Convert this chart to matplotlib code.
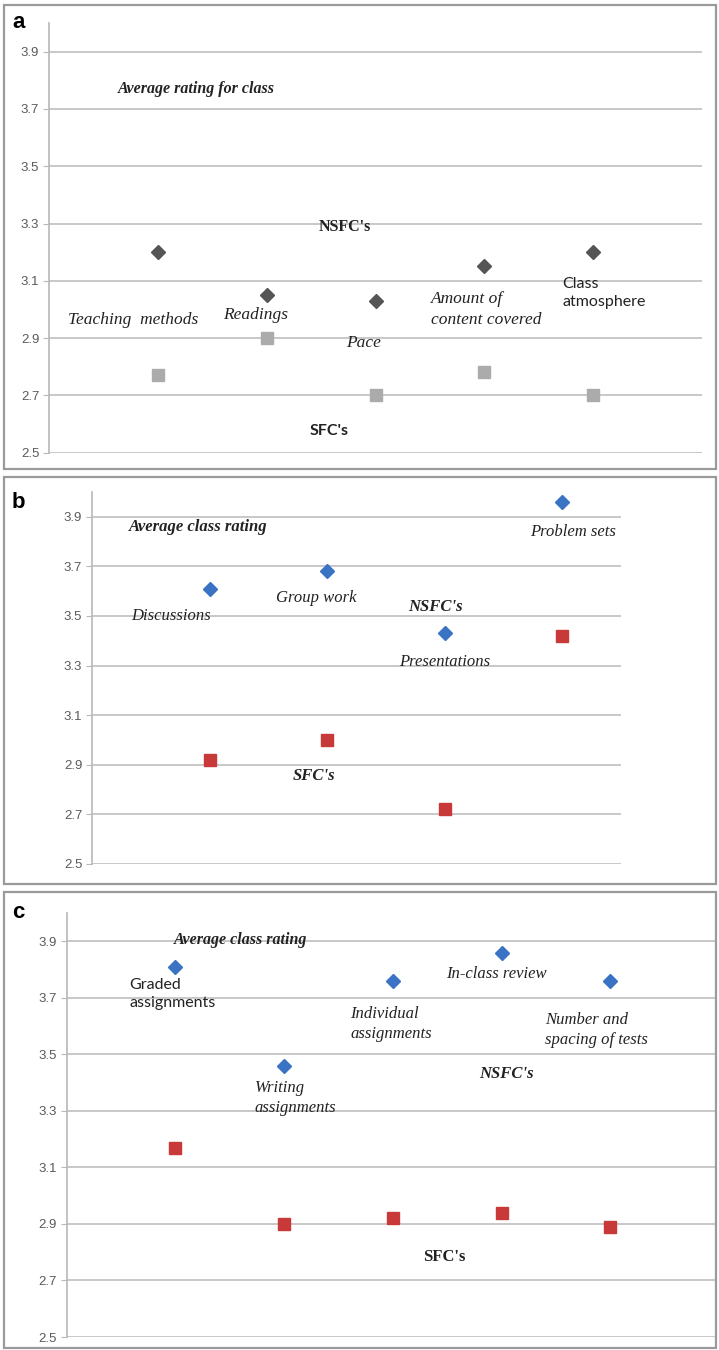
import numpy as np
import matplotlib
matplotlib.use('Agg')
import matplotlib.pyplot as plt
from matplotlib.patches import Rectangle

# panel a: average rating for class
a_cats = ['Teaching methods', 'Readings', 'Pace', 'Amount of content covered', 'Class atmosphere']
a_nsfc = [3.20, 3.05, 3.03, 3.15, 3.20]
a_sfc = [2.77, 2.90, 2.70, 2.78, 2.70]

# panel b: average class rating (activities)
b_cats = ['Discussions', 'Group work', 'Presentations', 'Problem sets']
b_nsfc = [3.61, 3.68, 3.43, 3.96]
b_sfc = [2.92, 3.00, 2.72, 3.42]

# panel c: average class rating (assessment)
c_cats = ['Graded assignments', 'Writing assignments', 'Individual assignments',
          'In-class review', 'Number and spacing of tests']
c_nsfc = [3.81, 3.46, 3.76, 3.86, 3.76]
c_sfc = [3.17, 2.90, 2.92, 2.94, 2.89]

yticks = [2.5, 2.7, 2.9, 3.1, 3.3, 3.5, 3.7, 3.9]

W, H = 719, 1350
fig = plt.figure(figsize=(W / 100, H / 100), dpi=100)
fig.patch.set_facecolor('white')

SERIF = 'Liberation Serif'
SANS = 'Liberation Sans'


def box(x0, y0, x1, y1):
    r = Rectangle((x0 / W, 1 - y1 / H), (x1 - x0) / W, (y1 - y0) / H,
                  transform=fig.transFigure, fill=False, ec='#9a9a9a', lw=1.6)
    fig.add_artist(r)


def make_ax(left, right, top, bottom, xmax):
    ax = fig.add_axes([left / W, 1 - bottom / H, (right - left) / W, (bottom - top) / H])
    ax.set_xlim(0, xmax)
    ax.set_ylim(2.5, 4.0)
    ax.set_yticks(yticks)
    ax.set_yticklabels(['%.1f' % t for t in yticks], family=SANS, fontsize=9.5, color='#5a5a5a')
    ax.set_xticks([])
    for s in ['top', 'right', 'bottom']:
        ax.spines[s].set_visible(False)
    ax.spines['left'].set_color('#b8b8b8')
    ax.spines['left'].set_linewidth(1.2)
    ax.tick_params(axis='y', length=4, color='#b8b8b8', pad=3)
    ax.grid(axis='y', color='#c4c4c4', lw=1.3)
    ax.set_axisbelow(True)
    ax.patch.set_alpha(0)
    return ax


def lab(ax, x, y, s, size=12, weight='normal', style='italic', family=SERIF, ha='center'):
    ax.text(x, y, s, fontsize=size, fontweight=weight, fontstyle=style, family=family,
            ha=ha, va='center', color='#222222', linespacing=1.35)


# ---- panel a
box(4, 5, 716, 469)
fig.text(12 / W, 1 - 22 / H, 'a', fontsize=16, fontweight='bold', family=SANS, va='center')
ax = make_ax(49, 702, 23, 452.7, 6)
xa = np.arange(1, len(a_cats) + 1)
ax.plot(xa, a_nsfc, 'D', ms=7.5, color='#555555', ls='none')
ax.plot(xa, a_sfc, 's', ms=9, color='#ababab', ls='none')
lab(ax, 1.35, 3.77, 'Average rating for class', size=11.5, weight='bold')
lab(ax, 2.72, 3.288, "NSFC's", size=11.5, weight='bold', style='normal')
lab(ax, 0.77, 2.963, 'Teaching  methods', size=12.5)
lab(ax, 1.90, 2.981, 'Readings', size=12.5)
lab(ax, 2.89, 2.883, 'Pace', size=12.5)
lab(ax, 3.51, 3.0, 'Amount of\ncontent covered', size=12.5, ha='left')
lab(ax, 4.72, 3.058, 'Class\natmosphere', size=11.5, style='normal', family='Lato', ha='left')
lab(ax, 2.57, 2.576, "SFC's", size=11.5, weight='bold', style='normal', family='Lato')

# ---- panel b
box(4, 477, 716, 884)
fig.text(12 / W, 1 - 503 / H, 'b', fontsize=16, fontweight='bold', family=SANS, va='center')
ax = make_ax(92, 621, 492, 864, 4.5)
xb = np.arange(1, len(b_cats) + 1)
ax.plot(xb, b_nsfc, 'D', ms=7.5, color='#3a72c4', ls='none')
ax.plot(xb, b_sfc, 's', ms=9, color='#c8393a', ls='none')
lab(ax, 0.90, 3.859, 'Average class rating', size=12, weight='bold')
lab(ax, 0.67, 3.50, 'Discussions', size=12)
lab(ax, 1.91, 3.573, 'Group work', size=12)
lab(ax, 2.92, 3.536, "NSFC's", size=12, weight='bold')
lab(ax, 3.00, 3.315, 'Presentations', size=12)
lab(ax, 4.09, 3.839, 'Problem sets', size=12)
lab(ax, 1.89, 2.855, "SFC's", size=12, weight='bold')

# ---- panel c
box(4, 892, 716, 1348)
fig.text(12 / W, 1 - 912 / H, 'c', fontsize=16, fontweight='bold', family=SANS, va='center')
ax = make_ax(66.5, 716, 913, 1337, 5.97)
xc = np.arange(1, len(c_cats) + 1)
ax.plot(xc, c_nsfc, 'D', ms=7.5, color='#3a72c4', ls='none')
ax.plot(xc, c_sfc, 's', ms=9, color='#c8393a', ls='none')
lab(ax, 1.60, 3.904, 'Average class rating', size=11.5, weight='bold')
lab(ax, 0.58, 3.713, 'Graded\nassignments', size=11.5, style='normal', family='Lato', ha='left')
lab(ax, 1.73, 3.346, 'Writing\nassignments', size=12, ha='left')
lab(ax, 2.61, 3.607, 'Individual\nassignments', size=12, ha='left')
lab(ax, 3.95, 3.784, 'In-class review', size=12)
lab(ax, 4.40, 3.586, 'Number and\nspacing of tests', size=12, ha='left')
lab(ax, 4.04, 3.43, "NSFC's", size=12, weight='bold')
lab(ax, 3.47, 2.783, "SFC's", size=12, weight='bold', style='normal')

fig.savefig('out.png', dpi=100)
